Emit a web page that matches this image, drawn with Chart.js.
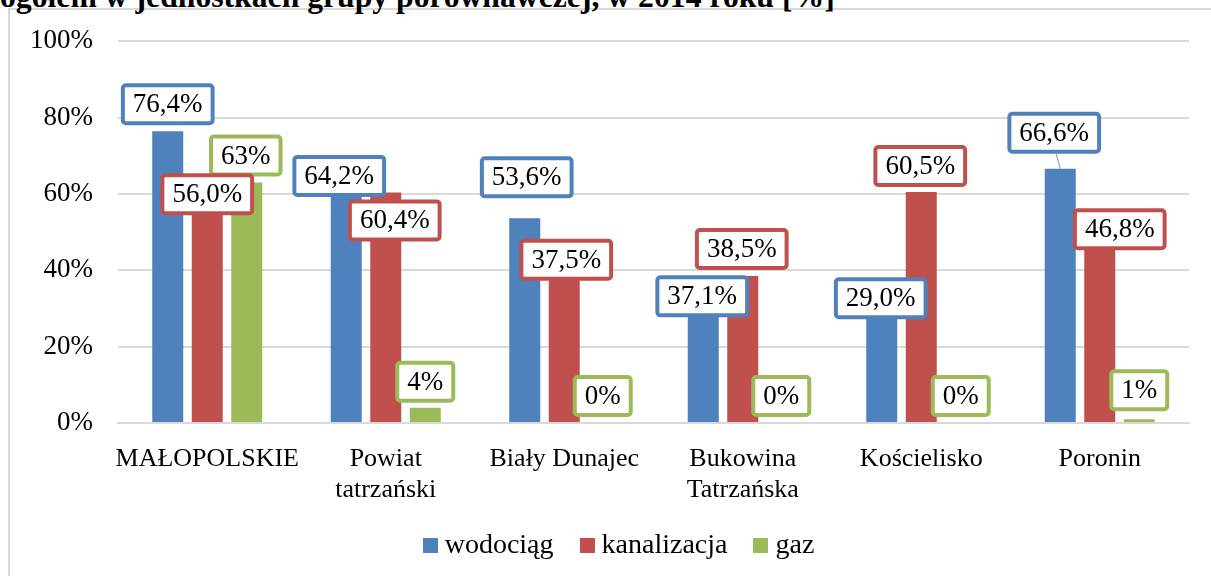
<!DOCTYPE html>
<html lang="pl">
<head>
<meta charset="utf-8">
<script src="https://cdn.jsdelivr.net/npm/chart.js@4/dist/chart.umd.min.js"></script>
<style>
  html, body { margin: 0; padding: 0; background: #fff; overflow: hidden; width: 1211px; height: 576px; }
  #frame { position: absolute; left: 8px; top: 8px; width: 1300px; height: 700px;
           border-left: 2px solid #d9d9d9; border-top: 2px solid #d9d9d9; }
  #title { position: absolute; left: 0; top: -16px; white-space: nowrap; color: #000;
           font-family: "Liberation Serif", serif; font-weight: bold; font-size: 27px; line-height: 1; }
  #wrap { position: absolute; left: 0; top: 0; width: 1211px; height: 576px; }
  #legend { position: absolute; left: 0; top: 527px; width: 1237px; height: 34px;
            display: flex; justify-content: center; align-items: center;
            font-family: "Liberation Serif", serif; font-size: 28px; line-height: 34px; color: #000; }
  #legend .item { display: flex; align-items: center; margin: 0 13px; }
  #legend .sw { width: 15px; height: 15px; margin-right: 7px; position: relative; top: 1px; }
</style>
</head>
<body>
<div id="frame"></div>
<div id="title">ogółem w jednostkach grupy porównawczej, w 2014 roku [%]</div>
<div id="wrap"><canvas id="c" width="1211" height="576"></canvas></div>
<div id="legend"></div>
<script>
// Categories (gminy / powiat / województwo)
const categories = ['MAŁOPOLSKIE', ['Powiat', 'tatrzański'], 'Biały Dunajec', ['Bukowina', 'Tatrzańska'], 'Kościelisko', 'Poronin'];
const seriesNames = ['wodociąg', 'kanalizacja', 'gaz'];

// Share of population using each installation [%]
const wodociag    = [76.4, 64.2, 53.6, 37.1, 29.0, 66.6];
const kanalizacja = [56.0, 60.4, 37.5, 38.5, 60.5, 46.8];
const gaz         = [63, 4, 0, 0, 0, 1];

// Decimal places shown in each series' labels
const labelDecimals = [1, 1, 0];

// Y axis
const yMin = 0, yMax = 100, yStep = 20;

// Styling
const colors = ['#4F81BD', '#C0504D', '#9BBB59'];
const FONT = '"Liberation Serif", serif';

// Manual nudges of the value boxes away from their default spot [dx, dy] px
const labelShift = [
  [[0, 0], [-7, 25], [2, -14], [-1, 42], [-1, 13], [-6, -9]],
  [[0, 12], [9, 55], [2, 7], [-1, 0], [-1, 1], [20, 12]],
  [[-1, 0], [0, 1], [-1, 0], [-1, 0], [0, 0], [0, -2]]
];
// Boxes linked to their bar with a leader line
const leaderLines = [[false, false, false, false, false, true], [], []];

// Fit the clipped heading line to its width
(function () {
  const el = document.getElementById('title');
  const cv = document.createElement('canvas').getContext('2d');
  cv.font = 'bold 27px "Liberation Serif"';
  const w = cv.measureText(el.textContent).width;
  const size = 27 * 835 / w;
  el.style.fontSize = size.toFixed(2) + 'px';
  el.style.top = (8 - 0.8375 * size).toFixed(2) + 'px';
})();

// Legend row
(function () {
  const lg = document.getElementById('legend');
  seriesNames.forEach((name, i) => {
    const item = document.createElement('div');
    item.className = 'item';
    const sw = document.createElement('span');
    sw.className = 'sw';
    sw.style.background = colors[i];
    const tx = document.createElement('span');
    tx.textContent = name;
    item.appendChild(sw);
    item.appendChild(tx);
    lg.appendChild(item);
  });
})();

function fmt(v, d) {
  return v.toFixed(d).replace('.', ',') + '%';
}

const boxedLabels = {
  id: 'boxedLabels',
  afterDatasetsDraw(chart) {
    const ctx = chart.ctx;
    ctx.save();
    ctx.font = '27px ' + FONT;
    ctx.textAlign = 'center';
    ctx.textBaseline = 'middle';
    const order = [0, 2, 1];
    const h = 42;
    order.forEach(i => {
      const ds = chart.data.datasets[i];
      const meta = chart.getDatasetMeta(i);
      meta.data.forEach((bar, j) => {
        const text = fmt(ds.data[j], labelDecimals[i]);
        const w = ctx.measureText(text).width + 24;
        const [dx, dy] = labelShift[i][j];
        const cx = bar.x + dx;
        const cy = bar.y - 6 - h / 2 + dy;
        if (leaderLines[i][j]) {
          ctx.beginPath();
          ctx.moveTo(cx + 2, cy + h / 2);
          ctx.lineTo(bar.x, bar.y);
          ctx.lineWidth = 1.2;
          ctx.strokeStyle = '#a6a6a6';
          ctx.stroke();
        }
        ctx.beginPath();
        ctx.roundRect(cx - w / 2 + 2, cy - h / 2 + 2, w - 4, h - 4, 3);
        ctx.fillStyle = '#fff';
        ctx.fill();
        ctx.lineWidth = 4;
        ctx.strokeStyle = colors[i];
        ctx.stroke();
        ctx.fillStyle = '#000';
        ctx.fillText(text, cx, cy + 1);
      });
    });
    ctx.restore();
  }
};

const seriesData = [wodociag, kanalizacja, gaz];

new Chart(document.getElementById('c'), {
  type: 'bar',
  data: {
    labels: categories,
    datasets: seriesNames.map((name, i) => ({
      label: name,
      data: seriesData[i],
      backgroundColor: colors[i],
      borderWidth: 0,
      categoryPercentage: 0.664,
      barPercentage: 0.785
    }))
  },
  options: {
    responsive: false,
    animation: false,
    layout: { padding: { top: 38, left: 0, right: 22, bottom: 55 } },
    plugins: {
      legend: { display: false },
      tooltip: { enabled: false },
      title: { display: false }
    },
    scales: {
      x: {
        grid: { display: false, drawTicks: false },
        border: { display: true, color: '#d9d9d9', width: 2 },
        ticks: { color: '#000', font: { family: FONT, size: 26, lineHeight: 1.18 }, padding: 21, maxRotation: 0, autoSkip: false },
        afterFit(scale) { scale.height = 98; }
      },
      y: {
        min: yMin, max: yMax,
        grid: { color: '#d9d9d9', lineWidth: 2, drawTicks: false },
        border: { display: false },
        ticks: {
          stepSize: yStep, color: '#000', padding: 25,
          font: { family: FONT, size: 27 },
          callback: v => v + '%'
        },
        afterFit(scale) { scale.width = 118; }
      }
    }
  },
  plugins: [boxedLabels]
});
</script>
</body>
</html>
